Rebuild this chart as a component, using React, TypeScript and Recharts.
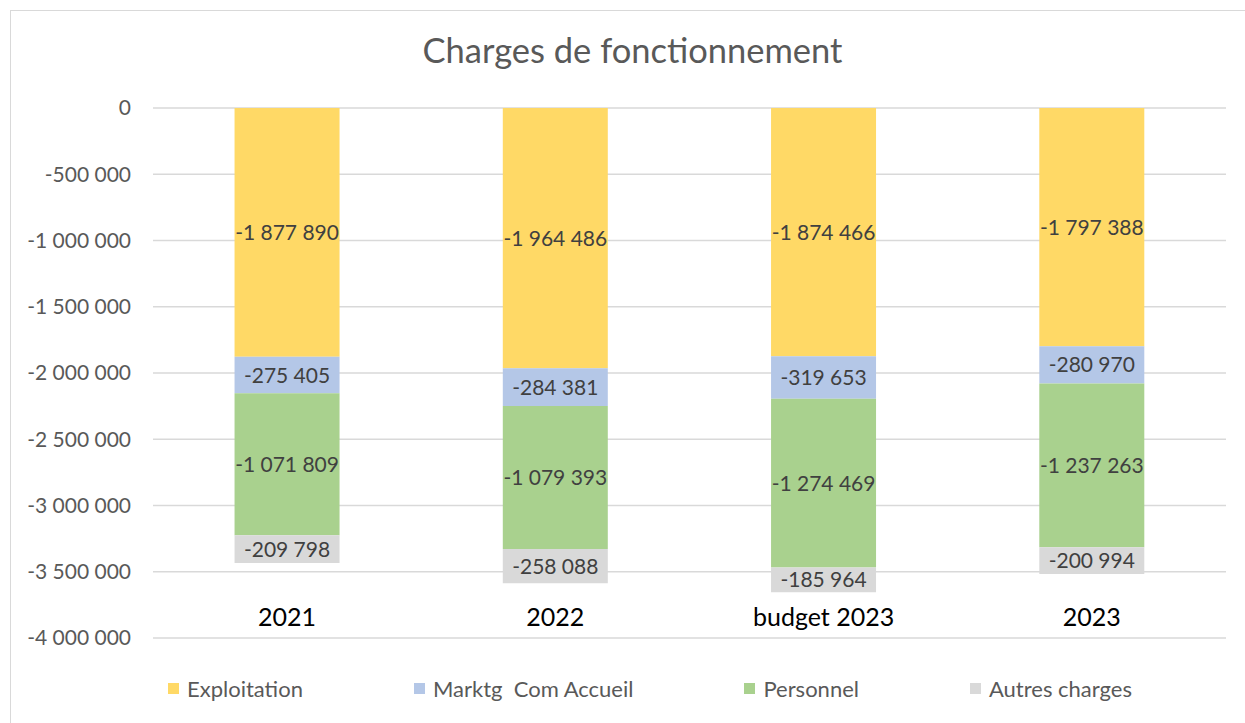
import React from "react";
import { ComposedChart, Bar, XAxis, YAxis, CartesianGrid, LabelList, Legend } from "recharts";

const categories = ["2021", "2022", "budget 2023", "2023"];
const exploitation = [-1877890, -1964486, -1874466, -1797388];
const marketing = [-275405, -284381, -319653, -280970];
const personnel = [-1071809, -1079393, -1274469, -1237263];
const autres = [-209798, -258088, -185964, -200994];
const yTicks = [0, -500000, -1000000, -1500000, -2000000, -2500000, -3000000, -3500000, -4000000];

const seriesDefs = [
  { key: "exploitation", name: "Exploitation", color: "#FFD966" },
  { key: "marketing", name: "Marktg  Com Accueil", color: "#B4C7E7" },
  { key: "personnel", name: "Personnel", color: "#A9D18E" },
  { key: "autres", name: "Autres charges", color: "#D9D9D9" },
];

const data = categories.map((c, i) => ({
  cat: c,
  exploitation: exploitation[i],
  marketing: marketing[i],
  personnel: personnel[i],
  autres: autres[i],
}));

const FONT = "Lato, 'Open Sans', sans-serif";

function fmt(v: number, sep = " "): string {
  const neg = v < 0;
  const s = Math.abs(Math.round(v)).toString();
  const parts: string[] = [];
  for (let i = s.length; i > 0; i -= 3) parts.unshift(s.slice(Math.max(0, i - 3), i));
  return (neg ? "-" : "") + parts.join(sep);
}

const CatTick = (props: any) => {
  const { x, y, payload } = props;
  return (
    <text x={x} y={y} dy={-12} textAnchor="middle" fill="#000000" fontSize={25} fontFamily={FONT}>
      {payload.value}
    </text>
  );
};

const LegendContent = () => (
  <div style={{ display: "flex", alignItems: "center", fontFamily: FONT, fontSize: 22, color: "#595959" }}>
    {seriesDefs.map((s, i) => (
      <div key={s.key} style={{ display: "flex", alignItems: "center", marginRight: i < seriesDefs.length - 1 ? 111 : 0 }}>
        <span style={{ display: "inline-block", width: 11, height: 11, background: s.color, marginRight: 8 }} />
        <span style={{ whiteSpace: "pre" }}>{s.name}</span>
      </div>
    ))}
  </div>
);

export default function App() {
  return (
    <div style={{ position: "absolute", left: 0, top: 0, width: 1245, height: 723, background: "#fff", overflow: "hidden" }}>
      <div style={{ position: "absolute", left: 10, top: 10, width: 1240, height: 730, borderLeft: "1px solid #D9D9D9", borderTop: "1px solid #D9D9D9" }} />
      <div style={{ position: "absolute", left: 0, top: 29, width: 1265, textAlign: "center", fontFamily: FONT, fontSize: 34.5, fontWeight: 400, color: "#595959" }}>
        Charges de fonctionnement
      </div>
      <div style={{ position: "absolute", left: 0, top: 0 }}>
        <ComposedChart
          width={1245}
          height={723}
          data={data}
          stackOffset="sign"
          barCategoryGap="30.4%"
          margin={{ top: 108, right: 19, bottom: 28, left: 23 }}
        >
          <CartesianGrid vertical={false} stroke="#D9D9D9" strokeWidth={1.5} />
          <XAxis
            dataKey="cat"
            axisLine={false}
            tickLine={false}
            tickSize={0}
            tickMargin={0}
            tick={<CatTick />}
            height={30}
            interval={0}
          />
          <YAxis
            type="number"
            domain={[-4000000, 0]}
            ticks={yTicks}
            interval={0}
            width={130}
            axisLine={false}
            tickLine={false}
            tickSize={0}
            tickMargin={22}
            tickFormatter={(v: number) => fmt(v)}
            tick={{ fill: "#595959", fontSize: 21, fontFamily: FONT }}
          />
          <Legend
            verticalAlign="bottom"
            content={<LegendContent />}
            wrapperStyle={{ position: "absolute", left: 168, top: 675, width: "auto" }}
          />
          {seriesDefs.map((s) => (
            <Bar key={s.key} dataKey={s.key} name={s.name} stackId="a" fill={s.color} isAnimationActive={false}>
              <LabelList
                dataKey={s.key}
                position="center"
                formatter={(v: any) => fmt(Number(v))}
                fill="#404040"
                fontSize={21}
                fontFamily={FONT}
              />
            </Bar>
          ))}
        </ComposedChart>
      </div>
    </div>
  );
}
